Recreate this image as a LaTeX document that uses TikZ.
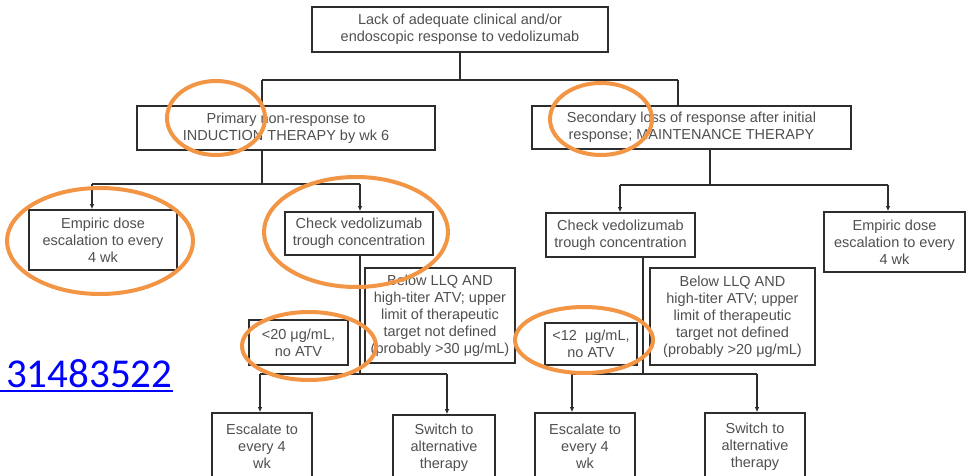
\documentclass[tikz,border=0pt]{standalone}
\usepackage{fontspec}
\setmainfont{Liberation Sans}
\newfontfamily\linkfont{Carlito}
\usetikzlibrary{arrows.meta}
\definecolor{boxline}{RGB}{45,45,45}
\definecolor{boxtext}{RGB}{80,80,80}
\definecolor{ringorange}{RGB}{242,150,70}
\definecolor{linkblue}{RGB}{0,0,255}
\begin{document}
\begin{tikzpicture}[x=1pt,y=-1pt,
  box/.style={draw=boxline, line width=1.6pt, rectangle, inner sep=0pt, align=center,
    text=boxtext, font=\fontsize{14.5}{17}\selectfont},
  conn/.style={draw=boxline, line width=1.6pt},
  arr/.style={conn, -{Latex[length=5pt,width=4.5pt]}},
  ring/.style={draw=ringorange, line width=4pt}]
\fill[white] (0,0) rectangle (966,476);
\useasboundingbox (0,0) rectangle (966,476);

% boxes
\node[box, minimum width=296pt, minimum height=45pt] (top) at (460,29.5)
  {Lack of adequate clinical and/or\\endoscopic response to vedolizumab};
\node[box, minimum width=298pt, minimum height=44pt] (prim) at (286,128)
  {Primary non-response to\\INDUCTION THERAPY by wk 6};
\node[box, minimum width=319pt, minimum height=43pt] (sec) at (691.5,127.5)
  {Secondary loss of response after initial\\response; MAINTENANCE THERAPY};
\node[box, minimum width=148pt, minimum height=60pt] (emp1) at (103,240)
  {Empiric dose\\escalation to every\\4 wk};
\node[box, minimum width=148pt, minimum height=43pt] (chk1) at (359,233.5)
  {Check vedolizumab\\trough concentration};
\node[box, minimum width=150pt, minimum height=95pt] (blw1) at (440,315.5)
  {Below LLQ AND\\high-titer ATV; upper\\limit of therapeutic\\target not defined\\(probably >30 μg/mL)};
\node[box, minimum width=99pt, minimum height=45pt] (lt20) at (298.5,342.5)
  {<20 μg/mL,\\no ATV};
\node[box, minimum width=100pt, minimum height=67pt] (esc1) at (262,446.5)
  {Escalate to\\every 4\\wk};
\node[box, minimum width=102pt, minimum height=65pt] (sw1) at (444,447.5)
  {Switch to\\alternative\\therapy};
\node[box, minimum width=149pt, minimum height=44pt] (chk2) at (620.5,235)
  {Check vedolizumab\\trough concentration};
\node[box, minimum width=141pt, minimum height=60pt] (emp2) at (894.5,242)
  {Empiric dose\\escalation to every\\4 wk};
\node[box, minimum width=165pt, minimum height=97pt] (blw2) at (732.5,316.5)
  {Below LLQ AND\\high-titer ATV; upper\\limit of therapeutic\\target not defined\\(probably >20 μg/mL)};
\node[box, minimum width=92pt, minimum height=42pt] (lt12) at (591,344)
  {<12~ μg/mL,\\no ATV};
\node[box, minimum width=100pt, minimum height=67pt] (esc2) at (585,446.5)
  {Escalate to\\every 4\\wk};
\node[box, minimum width=100pt, minimum height=67pt] (sw2) at (755,446.5)
  {Switch to\\alternative\\therapy};

% junction coordinates
\coordinate (j0) at (460,80);
\coordinate (jl) at (262,80);
\coordinate (jr) at (678,80);
\coordinate (p1) at (262,184);
\coordinate (p1l) at (92,184);
\coordinate (p1r) at (360,184);
\coordinate (s1) at (710,185);
\coordinate (s1l) at (620,185);
\coordinate (s1r) at (888,185);
\coordinate (c1) at (360,374);
\coordinate (c1l) at (260,374);
\coordinate (c1r) at (447,374);
\coordinate (c2) at (643,374);
\coordinate (c2l) at (572,374);
\coordinate (c2r) at (757,374);

% connectors
\draw[conn] (top.south) -- (j0);
\draw[conn] (jl) -- (jr);
\draw[conn] (jl) -- (jl |- prim.north);
\draw[conn] (jr) -- (jr |- sec.north);

\draw[conn] (p1 |- prim.south) -- (p1);
\draw[conn] (p1l) -- (p1r);
\draw[arr] (p1l) -- (p1l |- emp1.north);
\draw[arr] (p1r) -- (p1r |- chk1.north);

\draw[conn] (s1 |- sec.south) -- (s1);
\draw[conn] (s1l) -- (s1r);
\draw[arr] (s1l) -- (s1l |- chk2.north);
\draw[arr] (s1r) -- (s1r |- emp2.north);

\draw[conn] (c1 |- chk1.south) -- (c1);
\draw[conn] (c1l) -- (c1r);
\draw[arr] (c1l) -- (c1l |- esc1.north);
\draw[arr] (c1r) -- (c1r |- sw1.north);

\draw[conn] (c2 |- chk2.south) -- (c2);
\draw[conn] (c2l) -- (c2r);
\draw[arr] (c2l) -- (c2l |- esc2.north);
\draw[arr] (c2r) -- (c2r |- sw2.north);

% link text
\node[anchor=base west, inner sep=0pt, text=linkblue, font=\linkfont\fontsize{41}{45}\selectfont] (link) at (0,387)
  {\hspace*{6pt}31483522};
\draw[linkblue, line width=2.2pt] ([yshift=-4pt]link.base west) -- ([yshift=-4pt]link.base east);

% orange rings
\draw[ring] (216,118) ellipse [x radius=49, y radius=37];
\draw[ring] (601,119) ellipse [x radius=51, y radius=36];
\draw[ring] (100,241) ellipse [x radius=93, y radius=53];
\draw[ring] (356,232) ellipse [x radius=92, y radius=55];
\draw[ring] (309,346) ellipse [x radius=67, y radius=34];
\draw[ring] (584,340) ellipse [x radius=69, y radius=33];
\end{tikzpicture}
\end{document}
